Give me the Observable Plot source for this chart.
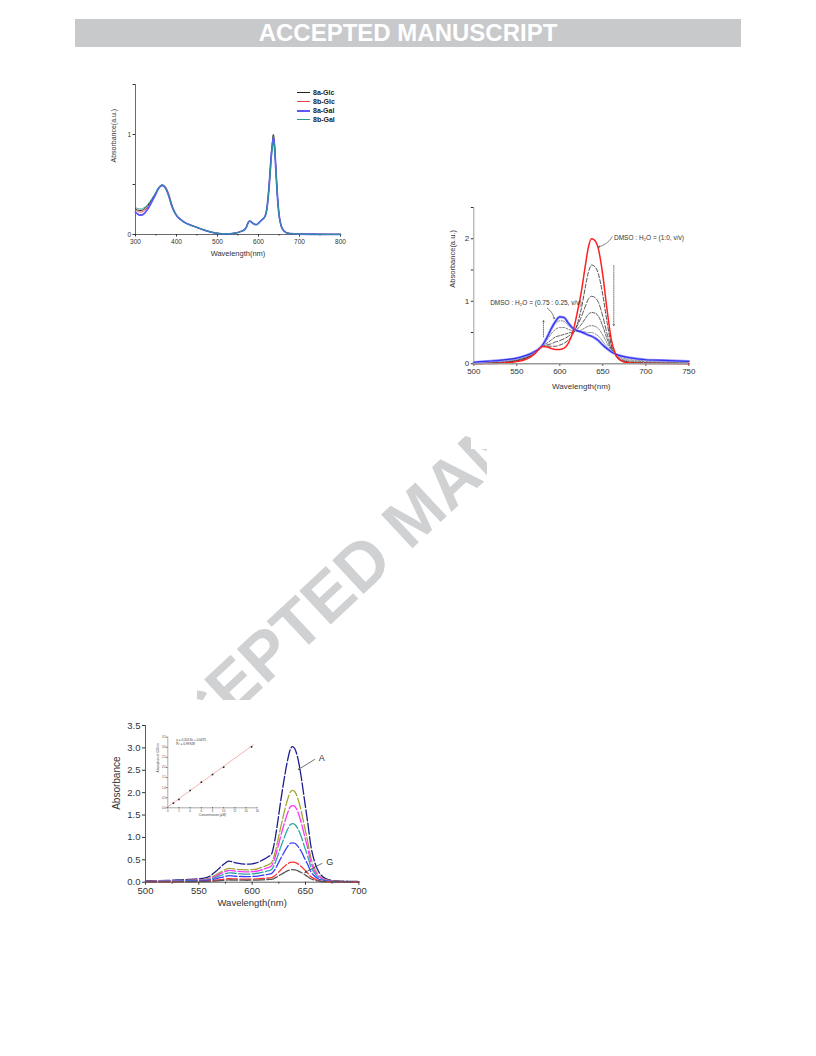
<!DOCTYPE html>
<html><head><meta charset="utf-8">
<script src="https://cdn.jsdelivr.net/npm/d3@7"></script>
<script src="https://cdn.jsdelivr.net/npm/@observablehq/plot@0.6"></script>
<style>
html,body{margin:0;padding:0;background:#fff;}
body{width:816px;height:1056px;position:relative;overflow:hidden;font-family:"Liberation Sans",Arial,sans-serif;}
.banner{position:absolute;left:75px;top:19px;width:666px;height:28px;background:#c8c9cb;color:#fff;font-weight:bold;font-size:24px;line-height:28px;text-align:center;white-space:nowrap;}
.panel{position:absolute;background:#fff;}
.panel svg{display:block;}
#wm{position:absolute;left:0;top:0;}
.mask{position:absolute;background:#fff;}
.legend{position:absolute;font-size:7px;font-weight:bold;color:#222;line-height:9px;}
.legend div{display:flex;align-items:center;height:9px;}
.legend span.sw{display:inline-block;width:13px;margin-right:3px;}
</style></head><body>
<svg id="wm" width="816" height="1056"><text x="431" y="531" transform="rotate(-43 431 531)" text-anchor="middle" font-family="Liberation Sans, Arial, sans-serif" font-size="67" font-weight="bold" fill="#d0d1d3">ACCEPTED MANUSCRIPT</text></svg>
<div class="banner">ACCEPTED MANUSCRIPT</div>
<div class="panel" id="p1" style="left:80px;top:62px;width:300px;height:208px;"></div>
<div class="mask" style="left:471px;top:405px;width:274px;height:44px;"></div>
<div class="mask" style="left:487px;top:440px;width:258px;height:40px;"></div>
<div class="mask" style="left:100px;top:680px;width:97px;height:22px;"></div>
<div class="panel" id="p2" style="left:440px;top:170px;width:305px;height:240px;"></div>
<div class="panel" id="p3" style="left:100px;top:700px;width:270px;height:215px;"></div>
<div id="legend1" class="legend" style="left:297px;top:88px;"></div>
<script>
// ---------- Chart 1 data ----------
const c1Wl = [300,305,310,315,320,330,340,350,355,360,365,370,375,380,390,400,410,420,440,460,480,500,520,540,550,560,565,570,575,578,582,586,590,595,600,605,610,615,620,625,628,631,634,636,638,640,643,646,650,655,660,665,670,680,700,750,800];
const c1Names = ["8a-Glc","8b-Glc","8a-Gal","8b-Gal"];
const c1Colors = ["#222222","#e84848","#5a5aff","#2a9a8a"];
const c1Widths = [1,1,1.8,1];
const c1_8aGlc = [.255,.245,.24,.24,.25,.29,.35,.42,.46,.485,.495,.485,.45,.40,.27,.19,.15,.12,.085,.055,.028,.012,.006,.012,.02,.035,.045,.07,.12,.135,.13,.115,.105,.10,.115,.135,.155,.175,.25,.45,.62,.80,.93,1.0,.97,.85,.62,.40,.20,.09,.045,.025,.015,.008,.004,.002,.001];
const c1_8bGlc = [.245,.232,.225,.225,.235,.275,.34,.415,.455,.482,.494,.488,.465,.42,.285,.195,.153,.122,.086,.056,.029,.013,.007,.013,.021,.037,.048,.074,.118,.13,.127,.113,.103,.099,.113,.133,.153,.172,.245,.44,.60,.77,.89,.955,.94,.83,.61,.40,.21,.095,.048,.027,.016,.009,.005,.003,.002];
const c1_8aGal = [.225,.205,.195,.195,.205,.255,.33,.41,.452,.48,.49,.482,.452,.40,.27,.19,.15,.12,.085,.055,.028,.012,.006,.012,.02,.035,.045,.07,.12,.133,.128,.113,.102,.098,.113,.133,.153,.173,.245,.44,.60,.78,.90,.96,.93,.82,.60,.39,.20,.09,.045,.025,.015,.008,.004,.002,.001];
const c1_8bGal = [.27,.26,.255,.255,.265,.30,.36,.425,.462,.486,.494,.484,.45,.40,.272,.19,.15,.12,.085,.055,.028,.012,.006,.012,.02,.035,.045,.07,.12,.132,.128,.114,.104,.10,.114,.134,.154,.174,.24,.43,.58,.75,.87,.925,.91,.81,.60,.39,.20,.09,.045,.025,.015,.008,.004,.002,.001];
const c1Series = [c1_8aGlc, c1_8bGlc, c1_8aGal, c1_8bGal];
const c1XTicks = [300,400,500,600,700,800];
const c1XMinor = [350,450,550,650,750];
const c1YTicks = [0,0.5,1,1.5];
const c1YLabels = [0,1];

// ---------- Chart 2 data ----------
const c2Wl = [500,510,520,530,540,550,560,565,570,575,580,585,590,595,600,605,610,615,620,625,630,633,637,641,645,650,655,660,665,670,680,690,700,720,750];
const c2Red = [0,.002,.005,.01,.02,.035,.07,.1,.15,.22,.275,.27,.245,.23,.23,.25,.33,.5,.8,1.15,1.6,1.85,2.0,1.97,1.83,1.42,.86,.38,.15,.06,.015,.008,.005,.003,.002];
const c2Blue = [.025,.035,.045,.055,.07,.09,.13,.155,.19,.23,.3,.42,.56,.68,.75,.74,.65,.57,.53,.51,.48,.46,.44,.41,.37,.3,.24,.19,.155,.13,.1,.08,.065,.055,.04];
const c2MidA = [.002,.004,.007,.012,.025,.045,.085,.12,.16,.22,.28,.285,.28,.28,.3,.33,.38,.47,.62,.88,1.25,1.45,1.58,1.55,1.43,1.1,.66,.3,.13,.06,.02,.01,.006,.004,.003];
const c2MidB = [.005,.008,.012,.018,.03,.05,.09,.12,.16,.22,.28,.3,.32,.35,.37,.4,.44,.5,.6,.75,.93,1.03,1.08,1.06,.98,.76,.48,.26,.13,.065,.025,.015,.012,.009,.007];
const c2MidC = [.01,.013,.017,.023,.035,.06,.095,.125,.165,.22,.285,.33,.38,.43,.45,.47,.49,.51,.55,.63,.73,.79,.82,.81,.76,.6,.4,.23,.13,.075,.035,.025,.02,.016,.013];
const c2MidD = [.015,.02,.025,.032,.045,.07,.105,.13,.17,.225,.29,.38,.48,.55,.58,.58,.55,.53,.52,.54,.58,.6,.61,.6,.56,.46,.33,.21,.13,.09,.05,.04,.035,.028,.022];
const c2MidE = [.02,.026,.033,.042,.055,.08,.115,.14,.175,.23,.295,.4,.54,.64,.69,.68,.61,.56,.53,.52,.51,.5,.5,.48,.44,.36,.27,.2,.145,.11,.07,.055,.05,.04,.03];
const c2XTicks = [500,550,600,650,700,750];
const c2YTicks = [0,0.5,1,1.5,2,2.5];
const c2YLabels = [0,1,2];
const c2Notes = ["DMSO : H\u2082O = (1:0, v/v)", "DMSO : H\u2082O = (0.75 : 0.25, v/v)"];
const c2NoteX = [663, 519];
const c2NoteY = [2.02, 0.98];
const c2LeadX1 = [661, 585.5], c2LeadY1 = [2.03, 0.89], c2LeadX2 = [645, 593.5], c2LeadY2 = [1.87, 0.72];
const c2TrendX = [581, 662.8], c2TrendY1 = [0.43, 1.57], c2TrendY2 = [0.69, 0.61];

// ---------- Chart 3 data ----------
const c3Wl = [500,510,520,530,540,550,555,560,565,570,575,578,581,585,590,595,600,605,610,615,618,621,624,627,630,633,636,638,640,643,646,649,652,655,658,661,665,670,675,680,690,700];
const c3A = [.03,.035,.04,.05,.06,.075,.09,.13,.22,.33,.43,.47,.46,.43,.41,.405,.41,.44,.5,.57,.62,.9,1.35,1.85,2.3,2.7,2.98,3.03,2.98,2.75,2.35,1.85,1.35,.82,.5,.3,.15,.07,.04,.03,.02,.015];
const c3B = [.02,.025,.03,.035,.045,.055,.065,.09,.15,.22,.28,.31,.305,.29,.28,.275,.28,.3,.34,.39,.43,.62,.92,1.25,1.56,1.83,2.02,2.05,2.02,1.86,1.59,1.25,.92,.55,.34,.2,.1,.05,.03,.02,.015,.01];
const c3C = [.018,.022,.026,.03,.038,.047,.055,.075,.125,.185,.24,.265,.26,.245,.235,.23,.235,.25,.285,.325,.36,.52,.77,1.05,1.3,1.53,1.69,1.71,1.69,1.56,1.33,1.05,.77,.46,.28,.17,.085,.04,.025,.018,.012,.009];
const c3D = [.015,.018,.021,.025,.031,.038,.045,.06,.1,.145,.19,.21,.205,.195,.185,.18,.185,.2,.225,.255,.28,.4,.59,.8,.99,1.17,1.29,1.31,1.29,1.19,1.02,.8,.59,.35,.22,.13,.065,.032,.02,.015,.01,.008];
const c3E = [.012,.014,.016,.019,.023,.028,.033,.045,.07,.1,.13,.145,.14,.133,.127,.124,.127,.137,.155,.175,.19,.27,.4,.54,.67,.79,.87,.88,.87,.8,.69,.54,.4,.24,.15,.09,.045,.022,.014,.01,.008,.006];
const c3F = [.008,.009,.01,.012,.014,.017,.02,.026,.04,.055,.07,.078,.076,.072,.069,.067,.069,.074,.083,.094,.1,.14,.205,.28,.345,.405,.445,.45,.445,.41,.35,.28,.205,.125,.08,.048,.025,.013,.009,.007,.005,.004];
const c3G = [.006,.007,.008,.009,.01,.012,.014,.018,.026,.036,.045,.05,.049,.047,.045,.044,.045,.048,.053,.06,.065,.09,.128,.172,.213,.251,.276,.28,.276,.255,.218,.172,.128,.078,.05,.03,.016,.009,.006,.005,.004,.003];
const c3Series = [c3A,c3B,c3C,c3D,c3E,c3F,c3G];
const c3Colors = ["#1c1c8e","#a5a534","#ff33ff","#2fa5a5","#3b3bff","#ff3333","#555555"];
const c3XTicks = [500,550,600,650,700];
const c3XMinor = [525,575,625,675];
const c3YTicks = [0,0.5,1,1.5,2,2.5,3,3.5];
const c3Marks = ["A","G"];
const c3MarkX = [662.5, 669.5], c3MarkY = [2.78, 0.44];
const c3LeadX1 = [658.5, 665.5], c3LeadY1 = [2.74, 0.42], c3LeadX2 = [643.5, 649.5], c3LeadY2 = [2.52, 0.22];

// inset calibration
const inConc = [1,2,4,6,8,10,15];
const inAbs = [0.23,0.41,0.86,1.27,1.65,2.01,3.02];
const inFitX = [0,15.3], inFitY = [0.05,3.12];
const inXTicks = [0,2,4,6,8,10,12,14,16];
const inYTicks = [0,0.5,1,1.5,2,2.5,3,3.5];
const inEq = ["y = 0.2013x + 0.0475", "R\u00b2 = 0.99928"];
const inEqY = [3.38, 3.18];

const FONT = "Liberation Sans, Arial, sans-serif";
const rows = (wl, vals) => wl.map((w,i) => ({w, v: vals[i]}));

// ---------- Chart 1 ----------
{
  const marks = [
    Plot.ruleX([300], {stroke:"#444", strokeWidth:0.8}),
    Plot.ruleY([0], {stroke:"#444", strokeWidth:0.8}),
    Plot.axisX({ticks:c1XTicks, tickSize:2.5, tickPadding:2, label:null, fontSize:6.5}),
    Plot.axisX({ticks:c1XMinor, tickSize:1.5, tickFormat:()=>"", label:null}),
    Plot.axisY({ticks:c1YTicks, tickSize:2.5, tickPadding:2, label:null, fontSize:6.5, tickFormat:d => c1YLabels.includes(d) ? String(d) : ""}),
    Plot.text(["Wavelength(nm)"], {frameAnchor:"bottom", dy:21, text:d=>d, fontSize:7.5, fill:"#333"}),
    Plot.text(["Absorbance(a.u.)"], {frameAnchor:"left", dx:-22, dy:3, rotate:-90, text:d=>d, fontSize:7, fill:"#333"})
  ];
  c1Series.forEach((s,i) => marks.push(Plot.line(rows(c1Wl,s), {x:"w", y:"v", stroke:c1Colors[i], strokeWidth:c1Widths[i], curve:"monotone-x"})));
  const p = Plot.plot({width:300, height:208, marginLeft:55, marginRight:40, marginTop:22, marginBottom:36,
    style:{fontFamily:FONT, color:"#333", background:"#fff"},
    x:{domain:[300,800]}, y:{domain:[0,1.5]}, marks});
  document.getElementById("p1").appendChild(p);
  const lg = document.getElementById("legend1");
  c1Names.forEach((n,i) => {
    const d = document.createElement("div");
    d.innerHTML = `<span class="sw" style="border-top:${c1Widths[i]>1?2:1}px solid ${c1Colors[i]}"></span>${n}`;
    lg.appendChild(d);
  });
}

// ---------- Chart 2 ----------
{
  const mids = [c2MidA,c2MidB,c2MidC,c2MidD,c2MidE];
  const midDash = ["4,2","5,2","3,1.5","2,1.5","6,1.5"];
  const midColor = ["#222","#333","#333","#555","#777"];
  const marks = [
    Plot.ruleX([500], {stroke:"#888", strokeWidth:0.8}),
    Plot.axisX({ticks:c2XTicks, tickSize:2.5, tickPadding:2, label:null, fontSize:8}),
    Plot.axisY({ticks:c2YTicks, tickSize:2.5, tickPadding:2, label:null, fontSize:8, tickFormat:d => c2YLabels.includes(d) ? String(d) : ""}),
    Plot.text(["Wavelength(nm)"], {frameAnchor:"bottom", dy:25, text:d=>d, fontSize:8, fill:"#333"}),
    Plot.text(["Absorbance(a.u.)"], {frameAnchor:"left", dx:-21, dy:2, rotate:-90, text:d=>d, fontSize:7.5, fill:"#333"})
  ];
  mids.forEach((s,i) => marks.push(Plot.line(rows(c2Wl,s), {x:"w", y:"v", stroke:midColor[i], strokeWidth:0.8, strokeDasharray:midDash[i], curve:"monotone-x"})));
  marks.push(Plot.line(rows(c2Wl,c2Blue), {x:"w", y:"v", stroke:"#9a9aff", strokeWidth:2.6, curve:"monotone-x"}));
  marks.push(Plot.line(rows(c2Wl,c2Blue), {x:"w", y:"v", stroke:"#3333ee", strokeWidth:1.2, curve:"monotone-x"}));
  marks.push(Plot.line(rows(c2Wl,c2Red), {x:"w", y:"v", stroke:"#ff2020", strokeWidth:1.5, curve:"monotone-x"}));
  marks.push(Plot.ruleY([0], {stroke:"#999", strokeWidth:1.6}));
  marks.push(Plot.text(c2Notes, {x:(d,i)=>c2NoteX[i], y:(d,i)=>c2NoteY[i], text:d=>d, textAnchor:"start", fontSize:6.5, fill:"#333"}));
  marks.push(Plot.arrow(c2LeadX1, {x1:(d,i)=>c2LeadX1[i], y1:(d,i)=>c2LeadY1[i], x2:(d,i)=>c2LeadX2[i], y2:(d,i)=>c2LeadY2[i], bend:true, headLength:3, stroke:"#333", strokeWidth:0.6}));
  marks.push(Plot.arrow(c2TrendX, {x1:(d,i)=>c2TrendX[i], y1:(d,i)=>c2TrendY1[i], x2:(d,i)=>c2TrendX[i], y2:(d,i)=>c2TrendY2[i], headLength:3, stroke:"#444", strokeWidth:0.7, strokeDasharray:"1,1.2"}));
  const p = Plot.plot({width:305, height:240, marginLeft:33.3, marginRight:56.7, marginTop:37, marginBottom:46.7,
    style:{fontFamily:FONT, color:"#333", background:"#fff"},
    x:{domain:[500,750]}, y:{domain:[0,2.5]}, marks});
  document.getElementById("p2").appendChild(p);
}

// ---------- Chart 3 ----------
{
  const marks = [
    Plot.ruleX([500], {stroke:"#333", strokeWidth:0.8}),
    Plot.ruleY([0], {stroke:"#333", strokeWidth:0.8}),
    Plot.axisX({ticks:c3XTicks, tickSize:3, tickPadding:2, label:null, fontSize:9.5}),
    Plot.axisX({ticks:c3XMinor, tickSize:2, tickFormat:()=>"", label:null}),
    Plot.axisY({ticks:c3YTicks, tickSize:3, tickPadding:2, label:null, fontSize:9.5, tickFormat:d3.format(".1f")}),
    Plot.text(["Wavelength(nm)"], {frameAnchor:"bottom", dy:24, text:d=>d, fontSize:9.5, fill:"#333"}),
    Plot.text(["Absorbance"], {frameAnchor:"left", dx:-29, dy:6, rotate:-90, text:d=>d, fontSize:10, fill:"#333"})
  ];
  c3Series.forEach((s,i) => marks.push(Plot.line(rows(c3Wl,s), {x:"w", y:"v", stroke:c3Colors[i], strokeWidth:1.3, strokeDasharray:"11,2.5", curve:"monotone-x"})));
  marks.push(Plot.text(c3Marks, {x:(d,i)=>c3MarkX[i], y:(d,i)=>c3MarkY[i], text:d=>d, textAnchor:"start", fontSize:9, fill:"#333"}));
  marks.push(Plot.arrow(c3Marks, {x1:(d,i)=>c3LeadX1[i], y1:(d,i)=>c3LeadY1[i], x2:(d,i)=>c3LeadX2[i], y2:(d,i)=>c3LeadY2[i], headLength:3.5, stroke:"#333", strokeWidth:0.7}));
  const p = Plot.plot({width:270, height:215, marginLeft:45, marginRight:11.7, marginTop:25, marginBottom:33.3,
    style:{fontFamily:FONT, color:"#333", background:"#fff"},
    x:{domain:[500,700]}, y:{domain:[0,3.5]}, marks});
  document.getElementById("p3").appendChild(p);

  const inset = Plot.plot({width:115, height:95, marginLeft:17.3, marginRight:8.3, marginTop:9.7, marginBottom:14.7,
    style:{fontFamily:FONT, color:"#444", background:"transparent"},
    x:{domain:[0,16]}, y:{domain:[0,3.5]},
    marks:[
      Plot.ruleX([0], {stroke:"#555", strokeWidth:0.5}),
      Plot.ruleY([0], {stroke:"#555", strokeWidth:0.5}),
      Plot.axisX({ticks:inXTicks, tickSize:1, tickPadding:1, label:null, fontSize:2.8}),
      Plot.axisY({ticks:inYTicks, tickSize:1, tickPadding:1, label:null, fontSize:2.8, tickFormat:d3.format(".1f")}),
      Plot.text(["Concentration (\u03bcM)"], {frameAnchor:"bottom", dy:8, text:d=>d, fontSize:3.2, fill:"#444"}),
      Plot.text(["Absorption at 637nm"], {frameAnchor:"left", dx:-10, rotate:-90, text:d=>d, fontSize:3.2, fill:"#444"}),
      Plot.line(inFitX.map((x,i)=>({x, y:inFitY[i]})), {x:"x", y:"y", stroke:"#f09090", strokeWidth:0.7}),
      Plot.dot(inConc.map((c,i)=>({c, a:inAbs[i]})), {x:"c", y:"a", symbol:"square", r:0.9, fill:"#222", stroke:"none"}),
      Plot.text(inEq, {x:1.5, y:(d,i)=>inEqY[i], text:d=>d, textAnchor:"start", fontSize:3.2, fill:"#333"})
    ]});
  inset.style.position = "absolute";
  inset.style.left = "50px";
  inset.style.top = "27px";
  document.getElementById("p3").appendChild(inset);
}
</script>
</body></html>
